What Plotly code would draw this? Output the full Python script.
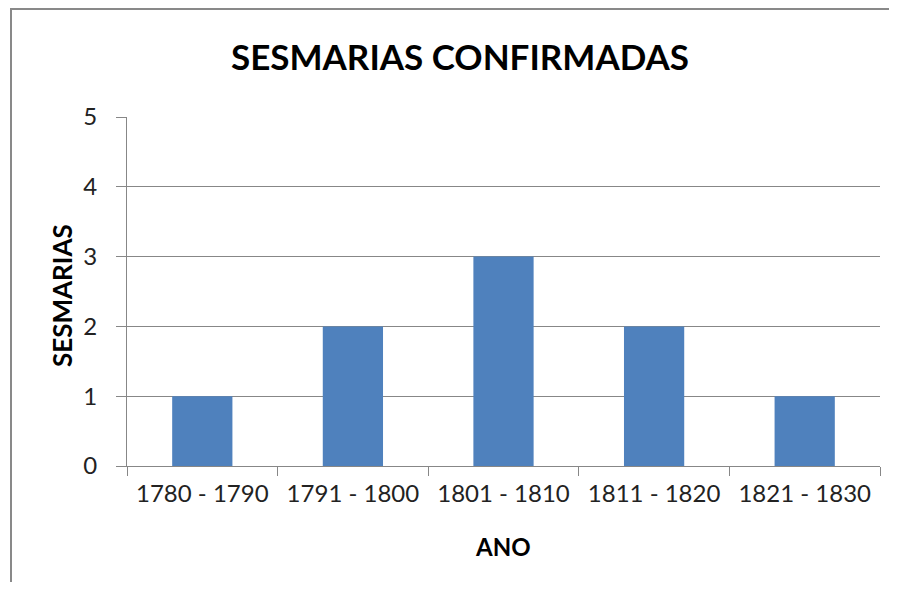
import plotly.graph_objects as go

categories = ["1780 - 1790", "1791 - 1800", "1801 - 1810", "1811 - 1820", "1821 - 1830"]
values = [1, 2, 3, 2, 1]
y_ticks = [0, 1, 2, 3, 4, 5]

OFF = 8  # page body margin
W, H = 897 - 2 * OFF, 590 - 2 * OFF
L, T = 127 - OFF, 117 - OFF
R = W - L - 753
B = H - T - 349
pw, ph = W - L - R, H - T - B

FONT = "Lato"
fig = go.Figure(go.Bar(x=categories, y=values, marker=dict(color="#4F81BD", line=dict(width=0)),
                       width=0.4))

def px_x(p):
    return (p - OFF - L) / pw

def px_y(p):
    return (H - B - (p - OFF)) / ph

border = dict(color="#898989", width=2)

fig.update_layout(
    width=W, height=H,
    margin=dict(l=L, r=R, t=T, b=B),
    paper_bgcolor="white", plot_bgcolor="white",
    showlegend=False,
    font=dict(family=FONT, color="#222222"),
    title=dict(text="<b>SESMARIAS CONFIRMADAS</b>", x=px_x(460), xanchor="center",
               xref="paper", y=1 - (58 - OFF) / H, yanchor="middle",
               font=dict(size=35, family=FONT, color="#000000")),
    xaxis=dict(type="category", tickson="boundaries", ticks="outside", ticklen=9, tickcolor="#878787",
               showline=True, linecolor="#878787", linewidth=1, showgrid=False,
               tickfont=dict(size=24, family=FONT, color="#222222"), ticklabelstandoff=6),
    yaxis=dict(range=[0, 5], tickvals=y_ticks, ticks="outside", ticklen=10, tickcolor="#878787",
               showline=True, linecolor="#878787", linewidth=1, showgrid=True, gridcolor="#878787",
               gridwidth=1, zeroline=False,
               tickfont=dict(size=24, family=FONT, color="#222222"), ticklabelstandoff=14),
    annotations=[
        dict(text="<b>SESMARIAS</b>", textangle=-90, xref="paper", yref="paper",
             x=px_x(62), y=px_y(296), xanchor="center", yanchor="middle", showarrow=False,
             font=dict(size=26, family=FONT, color="#000000")),
        dict(text="<b>ANO</b>", xref="paper", yref="paper",
             x=px_x(503), y=px_y(546), xanchor="center", yanchor="middle", showarrow=False,
             font=dict(size=24, family=FONT, color="#000000")),
    ],
    shapes=[
        dict(type="line", xref="paper", yref="paper", x0=px_x(10), y0=px_y(9), x1=px_x(900), y1=px_y(9),
             line=border, layer="below"),
        dict(type="line", xref="paper", yref="paper", x0=px_x(11), y0=px_y(8), x1=px_x(11), y1=px_y(600),
             line=border, layer="below"),
    ],
)

fig.write_html("out.html")
